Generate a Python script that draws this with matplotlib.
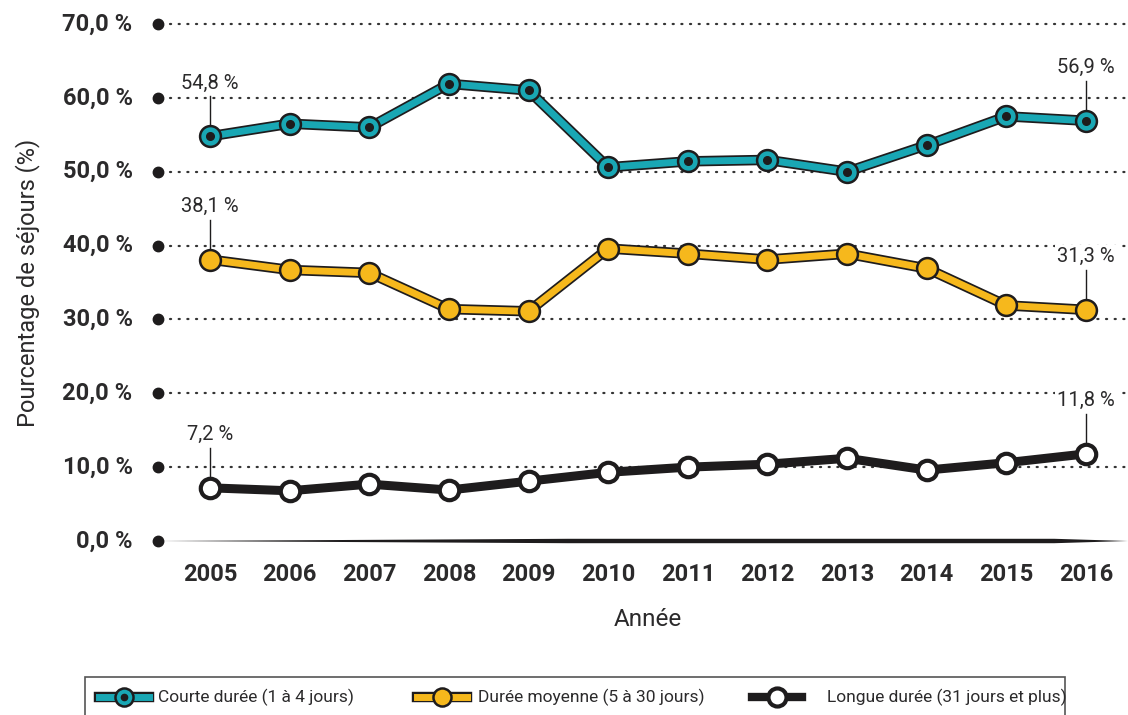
import matplotlib
matplotlib.use("Agg")
import matplotlib.pyplot as plt
import matplotlib.patheffects as pe
from matplotlib import font_manager
from matplotlib.lines import Line2D
from matplotlib.patches import Rectangle

# data ------------------------------------------------------------------------
years = [2005, 2006, 2007, 2008, 2009, 2010, 2011, 2012, 2013, 2014, 2015, 2016]
courte = [54.8, 56.5, 56.0, 61.9, 61.0, 50.6, 51.4, 51.6, 50.0, 53.6, 57.5, 56.9]
moyenne = [38.1, 36.7, 36.3, 31.4, 31.1, 39.6, 38.9, 38.1, 38.9, 36.9, 31.9, 31.3]
longue = [7.2, 6.8, 7.7, 6.9, 8.1, 9.3, 10.0, 10.4, 11.2, 9.6, 10.6, 11.8]
yticks = [0, 10, 20, 30, 40, 50, 60, 70]
labels = ["Courte durée (1 à 4 jours)", "Durée moyenne (5 à 30 jours)",
          "Longue durée (31 jours et plus)"]

TEAL = "#19a7b4"
YELLOW = "#f6b81c"
BLACK = "#1e1c1d"
TXT = "#2b2a2b"

names = {f.name for f in font_manager.fontManager.ttflist}
FONT = "Liberation Sans Narrow" if "Liberation Sans Narrow" in names else "Roboto"
plt.rcParams["font.family"] = [FONT, "DejaVu Sans"]


def fmt(v):
    return f"{v:.1f}".replace(".", ",") + " %"


fig = plt.figure(figsize=(11.28, 7.15), dpi=100)
ax = fig.add_axes([158 / 1128, 1 - 541 / 715, 970 / 1128, 517 / 715])
x0 = 2005 - 52 / 79.64
x1 = 2016 + 42 / 79.64
ax.set_xlim(x0, x1)
ax.set_ylim(0, 70)
ax.axis("off")

# gridlines with dot heads
for t in yticks:
    ax.plot([x0], [t], "o", color=BLACK, ms=7.5, clip_on=False, zorder=3)
    ax.text(x0 - 0.32, t, fmt(t), ha="right", va="center", fontsize=17,
            weight="bold", color=TXT)
    if t > 0:
        ax.plot([x0 + 0.15, x1], [t, t], color="#333333", lw=1.6,
                ls=(0, (0.5, 3.4)), dash_capstyle="round", clip_on=False, zorder=1)

# spindle baseline
ax.fill([x0, 2009.5, 2015.6, x1, 2015.6, 2009.5],
        [0, 0.3, 0.3, 0, -0.3, -0.3], color=BLACK, lw=0, clip_on=False, zorder=2)

for y in years:
    ax.text(y, -4.6, str(y), ha="center", va="center", fontsize=17,
            weight="bold", color=TXT)

ax.text((2005 + 2016) / 2, -10.6, "Année", ha="center", va="center",
        fontsize=17.5, color=TXT)
fig.text(28 / 1128, 1 - 283 / 715, "Pourcentage de séjours (%)", rotation=90,
         ha="center", va="center", fontsize=17, color=TXT)

outline = [pe.Stroke(linewidth=7.5, foreground=BLACK), pe.Normal()]

ax.plot(years, courte, color=TEAL, lw=5, path_effects=outline,
        solid_joinstyle="round", zorder=5, clip_on=False)
ax.plot(years, courte, "o", ms=15, mfc=TEAL, mec=BLACK, mew=1.8, zorder=6,
        clip_on=False)
ax.plot(years, courte, "o", ms=5.5, color=BLACK, zorder=7, clip_on=False)

ax.plot(years, moyenne, color=YELLOW, lw=5, path_effects=outline,
        solid_joinstyle="round", zorder=5, clip_on=False)
ax.plot(years, moyenne, "o", ms=15, mfc=YELLOW, mec=BLACK, mew=1.8, zorder=6,
        clip_on=False)

ax.plot(years, longue, color=BLACK, lw=6.5, solid_joinstyle="round", zorder=5,
        clip_on=False)
ax.plot(years, longue, "o", ms=14, mfc="white", mec=BLACK, mew=3, zorder=6,
        clip_on=False)

# first / last value callouts
for series in (courte, moyenne, longue):
    for i in (0, -1):
        v = series[i]
        ax.plot([years[i], years[i]], [v + 1.2, v + 5.4], color=BLACK, lw=1,
                zorder=4)
        ax.text(years[i], v + 7.2, fmt(v), ha="center", va="center",
                fontsize=14.5, color=TXT, zorder=4,
                bbox=dict(facecolor="white", edgecolor="none", pad=1.5))

# legend box (open at the bottom)
fig.add_artist(Rectangle((85 / 1128, -0.05), 980 / 1128, 0.05 + 1 - 677 / 715,
                         transform=fig.transFigure, fill=False, ec="#555555",
                         lw=1.2))
ly = 1 - 697 / 715
leg = [(99, 158, TEAL, TEAL, True), (417, 478, YELLOW, YELLOW, False),
       (752, 827, BLACK, "white", False)]
for (hx, tx, lc, mc, dot), lab in zip(leg, labels):
    w = 50
    fig.add_artist(Line2D([hx / 1128, (hx + w) / 1128], [ly, ly], color=lc,
                          lw=5 if lc != BLACK else 6,
                          path_effects=outline if lc != BLACK else None,
                          transform=fig.transFigure))
    fig.add_artist(Line2D([(hx + w / 2) / 1128], [ly], marker="o", ms=13,
                          mfc=mc, mec=BLACK, mew=1.8 if lc != BLACK else 3,
                          transform=fig.transFigure))
    if dot:
        fig.add_artist(Line2D([(hx + w / 2) / 1128], [ly], marker="o", ms=4.5,
                              color=BLACK, transform=fig.transFigure))
    fig.text(tx / 1128, ly, lab, ha="left", va="center", fontsize=12.5, color=TXT)

fig.savefig("out.png", dpi=100, facecolor="white")
